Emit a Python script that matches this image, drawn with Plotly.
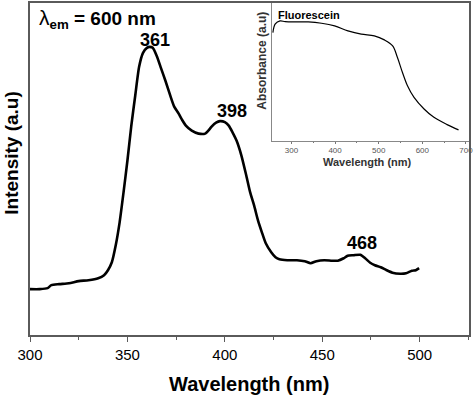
import plotly.graph_objects as go

# Main excitation spectrum (lambda_em = 600 nm)
wavelength = [300, 305, 309, 311, 315, 320, 325, 330, 335, 338, 340, 342, 344, 346, 348, 350,
              352, 354, 356, 358, 360, 361.4, 363, 365, 367, 369.5, 372, 374, 376.3, 378, 380,
              383, 386.5, 389.9, 391.5, 393.2, 395.5, 397.5, 400, 402, 404, 406, 408.5, 411,
              413, 415, 417, 419, 421, 423.8, 426, 428, 432, 437, 441, 444, 447, 451, 455,
              458, 461, 463, 466, 469.5, 472, 474.6, 477, 480, 483, 486, 490, 493, 496, 498,
              499.7]
intensity = [46, 46, 47, 50, 51, 52, 54, 55, 57, 60, 65, 73, 90, 113, 143, 175,
             210, 240, 269, 283, 288, 289, 288, 280, 269, 255, 240, 229, 222, 216, 210,
             205, 202, 202, 205, 209, 213, 214.5, 213.5, 210, 203, 195, 180, 160,
             143, 130, 115, 103, 92, 83, 78, 76, 75, 75, 74, 72, 74, 75, 74.5,
             74.5, 77, 79.5, 80, 80.5, 77, 72.5, 70, 68, 65, 62.5, 61.5, 62, 64.5, 65,
             67]

# Inset: Fluorescein absorbance
abs_wl = [257.5, 263, 274, 285.7, 308, 338.6, 369, 399, 429.5, 460, 490, 513, 532, 543,
          554.5, 566, 581, 604, 626.6, 656.8, 683]
absorbance = [108.3, 117, 120, 119.3, 119, 119, 117.7, 115, 110, 106.7, 105, 101, 95, 83.3,
              68.3, 55, 43.3, 31.7, 23.3, 16, 10.7]

peak_labels = ["361", "398", "468"]
peak_x = [361, 398, 468]

main_ticks = [300, 350, 400, 450, 500]
inset_ticks = [300, 400, 500, 600, 700]

axis_col = "#5a5a5a"
font = "Liberation Sans, Arial, sans-serif"

fig = go.Figure()
fig.add_trace(go.Scatter(x=wavelength, y=intensity, mode="lines", line_shape="spline",
                         line=dict(color="black", width=2.6, smoothing=0.6),
                         xaxis="x", yaxis="y", showlegend=False, hoverinfo="skip"))
fig.add_trace(go.Scatter(x=abs_wl, y=absorbance, mode="lines", line_shape="spline",
                         line=dict(color="black", width=1.2), xaxis="x2", yaxis="y2",
                         showlegend=False, hoverinfo="skip"))

fig.update_layout(
    width=474, height=395,
    margin=dict(l=30, r=1, t=2, b=60),
    paper_bgcolor="white", plot_bgcolor="white",
    font=dict(family=font, color="black"),
    xaxis=dict(domain=[0, 1], range=[300, 525.3], tickvals=main_ticks,
               ticks="outside", ticklen=5, tickcolor=axis_col, tickwidth=1,
               minor=dict(dtick=25, ticks="outside", ticklen=3, tickcolor=axis_col),
               showline=True, linecolor=axis_col, linewidth=1.5, mirror=True,
               showgrid=False, zeroline=False,
               tickfont=dict(size=15, family=font, color="black")),
    yaxis=dict(domain=[0, 1], range=[0, 333], showticklabels=False, ticks="",
               showline=True, linecolor=axis_col, linewidth=1.5, mirror=True,
               showgrid=False, zeroline=False),
    xaxis2=dict(domain=[0.5508, 1], range=[255, 707], anchor="y2", tickvals=inset_ticks,
                ticks="outside", ticklen=2, tickcolor="#777", ticklabeloverflow="allow",
                minor=dict(dtick=50, ticks="outside", ticklen=1.5, tickcolor="#777"),
                showline=True, linecolor="#888", linewidth=1,
                showgrid=False, zeroline=False,
                tickfont=dict(size=8, family=font, color="#555")),
    yaxis2=dict(domain=[0.5856, 1], range=[0, 138], anchor="x2", showticklabels=False,
                ticks="", showline=True, linecolor="#888", linewidth=1,
                showgrid=False, zeroline=False),
)


def px_to_paper_x(px):
    return (px - 30) / 443


def px_to_paper_y(py):
    return (335 - py) / 333


annotations = [
    dict(text="<b>Wavelength (nm)</b>", x=px_to_paper_x(251), y=px_to_paper_y(384),
         font=dict(size=20)),
    dict(text="<b>Intensity (a.u)</b>", x=px_to_paper_x(11), y=px_to_paper_y(152),
         textangle=-90, font=dict(size=19)),
    dict(text="<span style='font-size:21px'>λ</span><b><sub>em</sub> = 600 nm</b>",
         x=px_to_paper_x(37), y=px_to_paper_y(18), xanchor="left", font=dict(size=19)),
    dict(text="<b>Fluorescein</b>", x=px_to_paper_x(278), y=px_to_paper_y(14),
         xanchor="left", font=dict(size=11)),
    dict(text="<b>Absorbance (a.u)</b>", x=px_to_paper_x(264), y=px_to_paper_y(60),
         textangle=-90, font=dict(size=12, color="#333")),
    dict(text="<b>Wavelength (nm)</b>", x=px_to_paper_x(371), y=px_to_paper_y(161),
         font=dict(size=11, color="#333")),
]
label_y = [39, 110, 243]
label_shift = [6, 11, 5]
for lab, lx, ly, sh in zip(peak_labels, peak_x, label_y, label_shift):
    annotations.append(dict(text="<b>" + lab + "</b>", x=lx, xref="x", y=px_to_paper_y(ly),
                            yref="paper", xshift=sh, font=dict(size=18)))
for a in annotations:
    a.setdefault("xref", "paper")
    a.setdefault("yref", "paper")
    a["showarrow"] = False
    a.setdefault("xanchor", "center")
    a.setdefault("yanchor", "middle")
fig.update_layout(annotations=annotations)

fig.write_html("out.html", config={"displayModeBar": False},
               post_script="document.body.style.margin='0';")
